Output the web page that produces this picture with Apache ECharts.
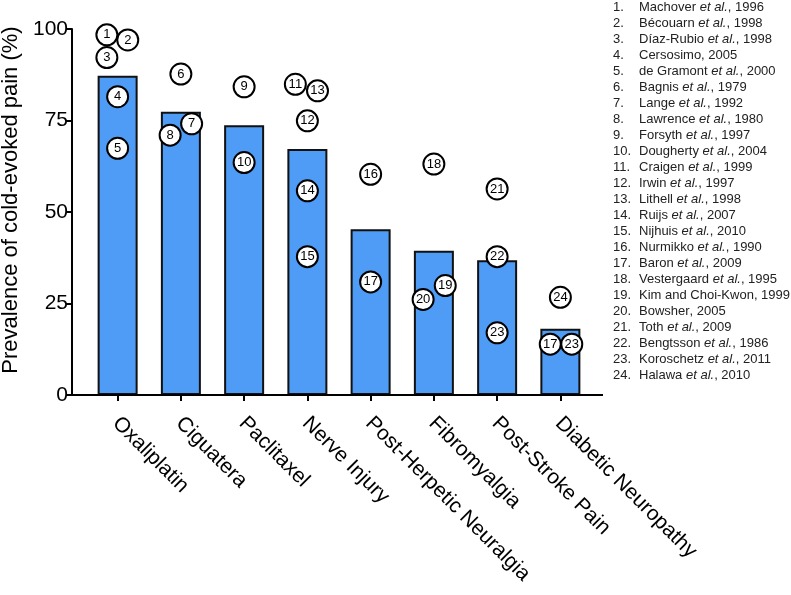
<!DOCTYPE html>
<html>
<head>
<meta charset="utf-8">
<script src="https://cdn.jsdelivr.net/npm/echarts@6/dist/echarts.min.js"></script>
<style>
html,body{margin:0;padding:0;background:#fff;}
#chart{width:791px;height:595px;}
</style>
</head>
<body>
<div id="chart"></div>
<script>
// ---- data ----
var categories = ['Oxaliplatin','Ciguatera','Paclitaxel','Nerve Injury','Post-Herpetic Neuralgia','Fibromyalgia','Post-Stroke Pain','Diabetic Neuropathy'];
var barValues = [87.2, 77.4, 73.7, 67.2, 45.3, 39.4, 36.8, 18.1];
var yTicks = [0, 25, 50, 75, 100];

// study points: reference number, category index, horizontal jitter (category units), value (%)
var studyRef    = [1, 2, 3, 4, 5, 6, 7, 8, 9, 10, 11, 13, 12, 14, 15, 16, 17, 18, 20, 19, 21, 22, 23, 24, 17, 23];
var studyCat    = [0, 0, 0, 0, 0, 1, 1, 1, 2, 2, 3, 3, 3, 3, 3, 4, 4, 5, 5, 5, 6, 6, 6, 7, 7, 7];
var studyJitter = [-0.17, 0.16, -0.17, 0, 0, 0, 0.17, -0.17, 0, 0, -0.19, 0.16, 0, 0, 0, 0, 0, 0, -0.17, 0.18, 0, 0, 0, 0, -0.16, 0.18];
var studyValue  = [98.4, 97.0, 92.2, 81.5, 67.4, 87.7, 74.1, 71.0, 84.2, 63.5, 84.9, 83.1, 74.9, 55.8, 37.8, 60.3, 30.9, 63.1, 26.1, 29.9, 56.3, 37.8, 17.0, 26.7, 13.9, 13.9];

var refAuthors = ['Machover ','Bécouarn ','Díaz-Rubio ','Cersosimo','de Gramont ','Bagnis ','Lange ','Lawrence ','Forsyth ','Dougherty ','Craigen ','Irwin ','Lithell ','Ruijs ','Nijhuis ','Nurmikko ','Baron ','Vestergaard ','Kim and Choi-Kwon','Bowsher','Toth ','Bengtsson ','Koroschetz ','Halawa '];
var refEtAl    = [true,true,true,false,true,true,true,true,true,true,true,true,true,true,true,true,true,true,false,false,true,true,true,true];
var refYears   = ['1996','1998','1998','2005','2000','1979','1992','1980','1997','2004','1999','1997','1998','2007','2010','1990','2009','1995','1999','2005','2009','1986','2011','2010'];

// ---- chart ----
var FONT = '"Liberation Sans", Arial, sans-serif';
var chart = echarts.init(document.getElementById('chart'));

var scatterData = studyRef.map(function(r, i){
  return {value: [studyCat[i] + studyJitter[i], studyValue[i]], ref: r};
});

var refLines = refAuthors.map(function(a, i){
  var s = '{n|' + (i + 1) + '.}{t|' + a + '}';
  if (refEtAl[i]) s += '{i|et al.}';
  s += '{t|, ' + refYears[i] + '}';
  return s;
}).join('\n');

var option = {
  animation: false,
  backgroundColor: '#fff',
  textStyle: {fontFamily: FONT},
  grid: {left: 86, right: 199, top: 29, bottom: 200, containLabel: false, outerBoundsMode: 'none'},
  xAxis: [{
    type: 'category',
    data: categories,
    axisLine: {show: false},
    axisTick: {show: true, alignWithLabel: true, length: 6, lineStyle: {color: '#000', width: 2}},
    axisLabel: {rotate: -45, fontSize: 21, color: '#000', margin: 12, fontFamily: FONT, interval: 0,
      align: 'left', verticalAlign: 'top', padding: [0, 0, 0, 8]},
    splitLine: {show: false}
  }, {
    type: 'value',
    min: -0.5,
    max: 7.5,
    show: false
  }],
  yAxis: {
    type: 'value',
    min: 0,
    max: 100,
    interval: 25,
    offset: 14,
    name: 'Prevalence of cold-evoked pain (%)',
    nameLocation: 'middle',
    nameGap: 48,
    nameTextStyle: {fontSize: 22, color: '#000', fontFamily: FONT, padding: [0, 0, 0, 24]},
    axisLine: {show: true, onZero: false, lineStyle: {color: '#000', width: 2}},
    axisTick: {show: true, length: 6, lineStyle: {color: '#000', width: 2}},
    axisLabel: {fontSize: 21, color: '#000', margin: 4, fontFamily: FONT,
      formatter: function(v){ return yTicks.indexOf(v) >= 0 ? String(v) : ''; }},
    splitLine: {show: false}
  },
  series: [{
    type: 'bar',
    data: barValues,
    barWidth: 40,
    itemStyle: {color: '#4f9cf6', borderColor: '#111', borderWidth: 2},
    z: 2
  }, {
    type: 'scatter',
    xAxisIndex: 1,
    data: scatterData,
    symbol: 'circle',
    symbolSize: 21,
    itemStyle: {color: '#fff', borderColor: '#000', borderWidth: 2, opacity: 1},
    label: {show: true, position: 'inside', color: '#000', fontSize: 13, fontFamily: FONT,
      formatter: function(p){ return String(p.data.ref); }},
    z: 5
  }],
  graphic: [{
    type: 'line',
    shape: {x1: 71, y1: 395, x2: 603, y2: 395},
    style: {stroke: '#000', lineWidth: 2},
    z: 10
  }, {
    type: 'text',
    left: 613,
    top: -1,
    style: {
      text: refLines,
      fontFamily: FONT,
      fontSize: 13,
      lineHeight: 16,
      fill: '#222',
      rich: {
        n: {width: 26, fontSize: 13, lineHeight: 16, fill: '#222', fontFamily: FONT},
        t: {fontSize: 13, lineHeight: 16, fill: '#222', fontFamily: FONT},
        i: {fontSize: 13, lineHeight: 16, fill: '#222', fontStyle: 'italic', fontFamily: FONT}
      }
    }
  }]
};
chart.setOption(option);
</script>
</body>
</html>
